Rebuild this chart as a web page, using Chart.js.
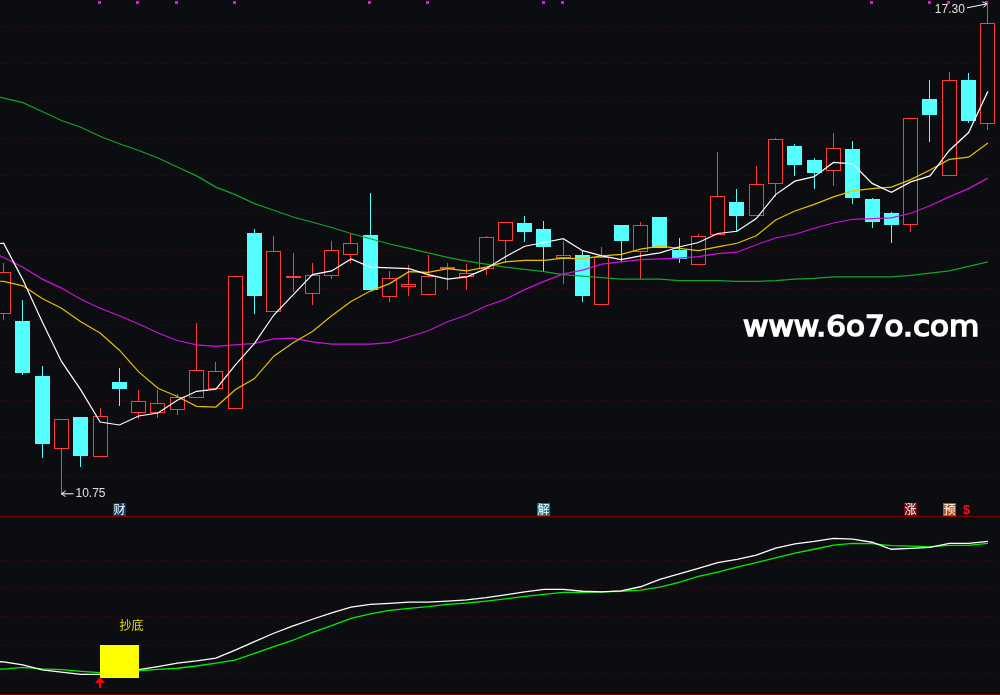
<!DOCTYPE html>
<html>
<head>
<meta charset="utf-8">
<title>K-line</title>
<script src="https://cdn.jsdelivr.net/npm/chart.js@4"></script>
<style>
  html, body { margin: 0; background: #0c0d10; overflow: hidden; }
  canvas { position: absolute; left: 0; }
  #main { top: 0; }
  #sub { top: 517px; }
  .rule { position: absolute; left: 0; width: 1000px; height: 1px; background: #800000; }
</style>
</head>
<body>
<canvas id="main" width="1000" height="516"></canvas>
<div class="rule" style="top:516px"></div>
<canvas id="sub" width="1000" height="178"></canvas>
<div class="rule" style="top:694px"></div>
<script>
// daily candles, one entry per day
const opens = [13.15,13.06,12.33,11.35,11.78,11.24,12.25,11.83,11.83,11.87,12.03,12.15,11.89,14.24,13.18,13.63,13.42,13.66,13.94,14.21,13.38,13.51,13.41,13.76,13.65,13.75,14.13,14.37,14.29,13.90,13.94,13.28,14.34,13.98,14.45,14.01,13.81,14.21,14.65,14.46,14.89,15.40,15.21,15.06,15.36,14.69,14.50,14.35,16.03,15.00,16.28,15.69];
const highs = [13.84,13.34,12.46,11.75,11.78,11.90,12.43,12.14,12.14,12.09,13.03,12.51,13.66,14.29,14.20,13.97,13.83,14.13,14.23,14.77,13.73,13.81,13.94,13.83,13.82,14.20,14.39,14.46,14.40,14.13,14.01,14.05,14.34,14.38,14.45,14.17,14.22,15.32,14.83,15.13,15.51,15.42,15.24,15.57,15.47,14.71,14.52,15.77,16.28,16.39,16.38,17.30];
const lows = [13.07,12.34,11.23,10.75,11.11,11.24,11.92,11.75,11.77,11.80,12.03,12.15,11.89,13.16,13.18,13.45,13.27,13.62,13.83,13.48,13.31,13.40,13.41,13.47,13.47,13.67,13.83,14.11,13.72,13.56,13.31,13.27,13.85,13.62,14.03,13.84,13.81,14.21,14.26,14.46,14.72,15.00,14.83,14.86,14.63,14.30,14.10,14.25,15.45,15.00,15.71,15.62];
const closes = [13.71,12.37,11.42,11.75,11.25,11.79,12.15,11.99,11.97,12.04,12.40,12.39,13.66,13.39,13.99,13.66,13.67,14.01,14.10,13.48,13.63,13.55,13.66,13.78,13.70,14.18,14.39,14.25,14.05,13.94,13.40,13.91,14.13,14.34,14.03,13.89,14.19,14.73,14.46,14.89,15.49,15.14,15.04,15.37,14.70,14.39,14.34,15.77,15.82,16.28,15.74,17.04];

// moving averages, the first value belongs to the day just off the left edge
const ma5 = [14.08,14.10,13.61,13.05,12.52,12.14,11.71,11.67,11.79,11.83,12.00,12.12,12.15,12.47,12.76,13.14,13.41,13.68,13.73,13.89,13.78,13.77,13.76,13.68,13.62,13.65,13.76,13.92,14.06,14.11,14.16,14.00,13.93,13.88,13.93,13.97,14.05,14.11,14.23,14.26,14.43,14.75,14.93,14.99,15.18,15.16,14.90,14.78,14.92,15.00,15.34,15.58,16.13];
const ma10 = [13.60,13.59,13.53,13.36,13.23,13.05,12.90,12.67,12.38,12.16,12.05,11.92,11.91,12.14,12.29,12.59,12.77,12.92,13.13,13.32,13.46,13.56,13.72,13.71,13.76,13.73,13.78,13.85,13.87,13.87,13.90,13.89,13.93,13.95,14.02,14.06,14.03,14.00,14.05,14.10,14.20,14.41,14.53,14.62,14.72,14.80,14.83,14.85,14.95,15.08,15.22,15.25,15.44];
const ma20 = [14.03,13.91,13.78,13.62,13.50,13.35,13.23,13.13,13.02,12.90,12.80,12.74,12.72,12.74,12.76,12.82,12.83,12.78,12.75,12.75,12.75,12.77,12.85,12.93,13.05,13.14,13.26,13.35,13.48,13.59,13.69,13.74,13.82,13.85,13.88,13.89,13.90,13.92,13.96,13.98,14.08,14.17,14.22,14.30,14.37,14.42,14.43,14.44,14.50,14.60,14.72,14.83,14.97];
const ma60 = [16.11,16.04,15.98,15.86,15.74,15.65,15.53,15.43,15.34,15.24,15.12,15.00,14.85,14.75,14.63,14.54,14.45,14.38,14.31,14.23,14.16,14.09,14.03,13.97,13.91,13.86,13.82,13.78,13.75,13.72,13.68,13.66,13.64,13.62,13.62,13.62,13.60,13.60,13.60,13.59,13.59,13.60,13.62,13.63,13.65,13.65,13.65,13.65,13.67,13.70,13.73,13.79,13.85];

// lower panel indicator
const fast = [4.1,4.0,2.9,1.1,0.3,-0.5,-0.5,0.4,1.2,2.3,3.5,4.3,5.3,8.2,11.2,14.2,16.8,19.2,21.5,23.5,24.5,24.9,25.3,25.3,25.7,26.1,26.9,27.9,29.0,29.9,29.9,29.2,29.0,29.3,30.8,33.4,35.4,37.4,39.4,40.6,42.1,44.6,46.1,47.0,48.1,47.8,46.7,44.2,44.5,44.9,46.3,46.3,47.0];
const slow = [1.4,1.4,2.0,1.5,1.2,0.6,0.1,0,0.8,1.3,1.7,2.5,3.5,4.6,7.0,9.4,11.7,14.5,16.9,19.5,21.1,22.4,23.1,23.7,24.5,25.0,25.7,26.5,27.4,28.1,28.8,28.8,29.0,29.2,29.6,30.7,32.4,34.5,36.0,37.8,39.4,41.1,42.8,44.2,45.7,46.3,46.2,45.5,45.3,45.1,45.6,45.6,46.3];

const priceGrid = [11,11.5,12,12.5,13,13.5,14,14.5,15,15.5,16,16.5,17];
const subGrid = [0,10,20,30,40];
const markerDays = [5,7,9,12,19,22,28,29,45,48,49,51];
const signalDay = 5;
const boxDay = 6;
const boxRange = [-1.8,10];
const badges = [
  { day: 6, text: "财", bg: "#0c3c6c" },
  { day: 28, text: "解", bg: "#107888" },
  { day: 47, text: "涨", bg: "#7a0a0a" },
  { day: 49, text: "预", bg: "#b4521c" }
];

const RED = "#ff3c3c", CYAN = "#54ffff", BG = "#0c0d10";
const isUp = i => closes[i] >= opens[i];
const upOr = (a, b) => opens.map((_, i) => isUp(i) ? a : b);
const perDay = vals => vals.map((y, i) => ({ x: i - 1, y }));

// bars land on whole pixels so the candles stay sharp
const snapBars = {
  id: "snapBars",
  beforeDatasetsDraw(chart) {
    chart.getSortedVisibleDatasetMetas().forEach(meta => {
      if (meta.type !== "bar") return;
      meta.data.forEach(el => {
        el.x = Math.floor(el.x) + 0.5;
        el.y = Math.round(el.y);
        el.base = Math.round(el.base);
      });
    });
  }
};

function arrow(ctx, x1, y1, x2, y2) {
  const a = Math.atan2(y2 - y1, x2 - x1);
  ctx.beginPath();
  ctx.moveTo(x1, y1);
  ctx.lineTo(x2, y2);
  ctx.moveTo(x2 - 5 * Math.cos(a - 0.6), y2 - 5 * Math.sin(a - 0.6));
  ctx.lineTo(x2, y2);
  ctx.lineTo(x2 - 5 * Math.cos(a + 0.6), y2 - 5 * Math.sin(a + 0.6));
  ctx.stroke();
}

const mainNotes = {
  id: "mainNotes",
  afterDatasetsDraw(chart) {
    const { ctx, scales: { x, y } } = chart;
    ctx.save();
    ctx.strokeStyle = "#ffffff";
    ctx.lineWidth = 1;
    ctx.fillStyle = "#e4e0d8";
    ctx.font = "12px 'Liberation Sans'";
    ctx.textBaseline = "middle";

    const lowDay = lows.indexOf(Math.min(...lows));
    const lowX = x.getPixelForValue(lowDay), lowY = y.getPixelForValue(lows[lowDay]);
    arrow(ctx, lowX + 12, lowY, lowX, lowY);
    ctx.textAlign = "left";
    ctx.fillText(lows[lowDay].toFixed(2), lowX + 14, lowY);

    const highDay = highs.indexOf(Math.max(...highs));
    const highX = x.getPixelForValue(highDay), highY = y.getPixelForValue(highs[highDay]);
    arrow(ctx, highX - 21, highY + 4, highX - 1, highY);
    ctx.textAlign = "right";
    ctx.fillText(highs[highDay].toFixed(2), highX - 23, highY + 5.5);

    // news badges along the bottom edge
    ctx.font = "12px 'Noto Sans CJK SC'";
    ctx.textAlign = "center";
    badges.forEach(b => {
      const bx = Math.floor(x.getPixelForValue(b.day));
      ctx.fillStyle = b.bg;
      ctx.fillRect(bx - 6, 503, 13, 13);
      ctx.fillStyle = "#ffffff";
      ctx.fillText(b.text, bx + 0.5, 509.5);
    });
    ctx.fillStyle = "#ff1010";
    ctx.font = "bold 13px 'Liberation Sans'";
    ctx.fillText("$", x.getPixelForValue(50) - 2, 510.5);

    // site watermark
    ctx.save();
    ctx.translate(743, 336);
    ctx.scale(1.07, 1);
    ctx.font = "29px 'DejaVu Sans'";
    ctx.textAlign = "left";
    ctx.textBaseline = "alphabetic";
    ctx.fillStyle = "#ffffff";
    ctx.strokeStyle = "#ffffff";
    ctx.lineWidth = 1.6;
    ctx.fillText("www.6o7o.com", 0, 0);
    ctx.strokeText("www.6o7o.com", 0, 0);
    ctx.restore();
    ctx.restore();
  }
};

const subNotes = {
  id: "subNotes",
  afterDatasetsDraw(chart) {
    const { ctx, scales: { x, y } } = chart;
    ctx.save();
    ctx.fillStyle = "#e0e000";
    ctx.font = "12px 'Noto Sans CJK SC'";
    ctx.textAlign = "center";
    ctx.textBaseline = "middle";
    ctx.fillText("抄底", x.getPixelForValue(boxDay) + 12, y.getPixelForValue(17.1));

    // buy arrow below the signal day
    const ax = Math.floor(x.getPixelForValue(signalDay)), ay = y.getPixelForValue(boxRange[0]);
    ctx.fillStyle = "#ff0000";
    ctx.beginPath();
    ctx.moveTo(ax, ay - 1);
    ctx.lineTo(ax + 5, ay + 5);
    ctx.lineTo(ax - 5, ay + 5);
    ctx.closePath();
    ctx.fill();
    ctx.fillRect(ax - 1, ay + 4, 2, 6);
    ctx.restore();
  }
};

const lineSet = (label, vals, color, order, width) => ({
  type: "line", label, data: perDay(vals), borderColor: color, borderWidth: width,
  pointRadius: 0, tension: 0, fill: false, order
});

const gridAxis = (min, max, ticks) => ({
  min, max,
  afterBuildTicks: scale => { scale.ticks = ticks.map(value => ({ value })); },
  ticks: { display: false },
  grid: { color: "#400707", drawTicks: false, tickLength: 0, lineWidth: 1 },
  border: { display: false, dash: [2, 3] }
});

const xAxis = { type: "linear", display: false, offset: false, min: -0.1865, max: 51.627 };

const baseOptions = {
  responsive: false,
  animation: false,
  events: [],
  layout: { padding: 0 },
  plugins: { legend: { display: false }, tooltip: { enabled: false } }
};

new Chart(document.getElementById("main"), {
  type: "bar",
  data: {
    datasets: [
      lineSet("MA5", ma5, "#ffffff", 1, 1.2),
      lineSet("MA10", ma10, "#e6c200", 2, 1.2),
      lineSet("MA20", ma20, "#d010e0", 3, 1.2),
      lineSet("MA60", ma60, "#12a52a", 4, 1.2),
      {
        label: "markers",
        data: markerDays.map(d => ({ x: d - 0.05, y: [17.30, 17.34] })),
        backgroundColor: "#ff00ff", barThickness: 3, grouped: false, inflateAmount: 0, order: 5
      },
      {
        label: "body",
        data: opens.map((o, i) => ({ x: i, y: [o, closes[i]] })),
        backgroundColor: upOr(BG, CYAN), borderColor: upOr(RED, CYAN),
        borderWidth: 1, borderSkipped: false, barThickness: 15, grouped: false, inflateAmount: 0, order: 6
      },
      {
        label: "wick",
        data: lows.map((l, i) => ({ x: i, y: [l, highs[i]] })),
        backgroundColor: upOr(RED, CYAN), barThickness: 1, grouped: false, inflateAmount: 0, order: 7
      }
    ]
  },
  options: { ...baseOptions, scales: { x: xAxis, y: gridAxis(10.4532, 17.3516, priceGrid) } },
  plugins: [snapBars, mainNotes]
});

new Chart(document.getElementById("sub"), {
  type: "bar",
  data: {
    datasets: [
      {
        label: "bottom box",
        data: [{ x: boxDay, y: boxRange }],
        backgroundColor: "#ffff00", barThickness: 39, grouped: false, inflateAmount: 0, order: 1
      },
      lineSet("fast", fast, "#ffffff", 2, 1.3),
      lineSet("slow", slow, "#00f000", 3, 1.3)
    ]
  },
  options: { ...baseOptions, scales: { x: xAxis, y: gridAxis(-7.857, 55.714, subGrid) } },
  plugins: [snapBars, subNotes]
});
</script>
</body>
</html>
